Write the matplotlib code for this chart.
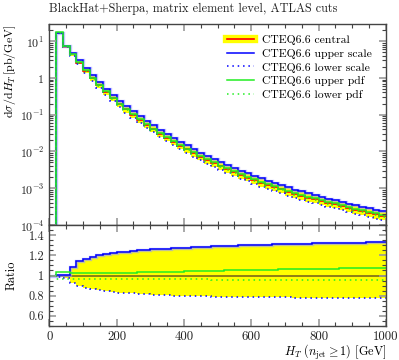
import matplotlib
matplotlib.use("Agg")
import matplotlib.pyplot as plt
import numpy as np
from matplotlib.lines import Line2D
from matplotlib.legend_handler import HandlerTuple
from matplotlib.ticker import MultipleLocator, LogLocator, FuncFormatter, NullFormatter

plt.rcParams['font.family'] = ['cmr10', 'DejaVu Serif']
plt.rcParams['mathtext.fontset'] = 'cm'
plt.rcParams['axes.formatter.use_mathtext'] = True
plt.rcParams['axes.unicode_minus'] = False

# H_T bin edges [GeV], 20 GeV bins
bin_edges = np.arange(0, 1001, 20)

# central prediction dsigma/dH_T [pb/GeV] (first bin 0-20 is empty)
central = [0.0,
           16.8, 7.08, 4.32, 2.60, 1.57, 0.977, 0.624, 0.417, 0.282, 0.195,
           0.138, 0.0989, 0.0724, 0.0537, 0.0403, 0.0305, 0.0234, 0.0182, 0.0143, 0.01135,
           0.00902, 0.00724, 0.00589, 0.00479, 0.00394, 0.00327, 0.00272, 0.00229, 0.00195, 0.00166,
           0.00141, 0.00122, 0.00106, 0.000923, 0.000804, 0.000700, 0.000624, 0.000556, 0.000495, 0.000442,
           0.000394, 0.000362, 0.000326, 0.000288, 0.000257, 0.000234, 0.000216, 0.000193, 0.000178]

# ratios to central
upper_scale = [1.0,
               1.005, 1.005, 1.085, 1.14, 1.165, 1.185, 1.20, 1.21, 1.22, 1.23,
               1.237, 1.243, 1.248, 1.253, 1.258, 1.262, 1.266, 1.270, 1.274, 1.277,
               1.280, 1.283, 1.286, 1.289, 1.291, 1.294, 1.296, 1.298, 1.300, 1.302,
               1.304, 1.306, 1.308, 1.310, 1.311, 1.313, 1.315, 1.316, 1.318, 1.319,
               1.320, 1.322, 1.323, 1.324, 1.325, 1.326, 1.327, 1.328, 1.329]
lower_scale = [1.0,
               0.985, 0.975, 0.925, 0.895, 0.875, 0.862, 0.852, 0.844, 0.837, 0.831,
               0.826, 0.822, 0.818, 0.814, 0.811, 0.808, 0.805, 0.802, 0.800, 0.798,
               0.796, 0.795, 0.793, 0.792, 0.791, 0.790, 0.789, 0.788, 0.787, 0.786,
               0.785, 0.785, 0.784, 0.783, 0.783, 0.782, 0.782, 0.781, 0.781, 0.780,
               0.780, 0.779, 0.779, 0.779, 0.778, 0.778, 0.778, 0.777, 0.777]
upper_pdf = [1.0,
             1.03, 1.03, 1.020, 1.021, 1.022, 1.023, 1.024, 1.025, 1.026, 1.027,
             1.028, 1.029, 1.030, 1.031, 1.032, 1.034, 1.035, 1.037, 1.039, 1.041,
             1.043, 1.045, 1.047, 1.048, 1.049, 1.050, 1.052, 1.053, 1.054, 1.055,
             1.056, 1.058, 1.059, 1.060, 1.061, 1.062, 1.064, 1.063, 1.066, 1.065,
             1.068, 1.069, 1.070, 1.072, 1.073, 1.074, 1.076, 1.077, 1.079]
lower_pdf = [1.0,
             0.97, 0.968, 0.966, 0.966, 0.965, 0.965, 0.965, 0.964, 0.964, 0.964,
             0.964, 0.963, 0.963, 0.963, 0.963, 0.962, 0.962, 0.962, 0.962, 0.961,
             0.961, 0.961, 0.961, 0.960, 0.960, 0.960, 0.960, 0.959, 0.959, 0.959,
             0.959, 0.958, 0.958, 0.958, 0.958, 0.957, 0.957, 0.957, 0.957, 0.956,
             0.956, 0.956, 0.956, 0.955, 0.955, 0.955, 0.955, 0.954, 0.954]

labels = ['CTEQ6.6 central', 'CTEQ6.6 upper scale', 'CTEQ6.6 lower scale',
          'CTEQ6.6 upper pdf', 'CTEQ6.6 lower pdf']

YELLOW = '#ffff00'
RED = '#ff0000'
BLUE = '#0000ff'
GREEN = '#22ee22'
AXCOL = '#444444'
DOT = (0, (1, 2.5))

central = np.clip(np.array(central), 1e-12, None)
r_us = np.array(upper_scale)
r_ls = np.array(lower_scale)
r_up = np.array(upper_pdf)
r_lp = np.array(lower_pdf)

fig = plt.figure(figsize=(3.99, 3.60), dpi=100)
ax = fig.add_axes([0.1236, 0.375, 0.8438, 0.5583])
axr = fig.add_axes([0.1236, 0.0944, 0.8438, 0.2806], sharex=ax)


def draw(a, c, central_col):
    up = c * r_us
    lo = c * r_ls
    a.stairs(up, bin_edges, baseline=lo, fill=True, color=YELLOW, lw=0)
    a.stairs(c, bin_edges, baseline=None, color=central_col, lw=1.2)
    a.stairs(up, bin_edges, baseline=None, color='#9999ff', lw=2.4, alpha=0.6)
    a.stairs(up, bin_edges, baseline=None, color=BLUE, lw=1.1)
    a.stairs(lo, bin_edges, baseline=None, color=BLUE, lw=1.1, ls=DOT)
    a.stairs(c * r_up, bin_edges, baseline=None, color=GREEN, lw=1.1)
    a.stairs(c * r_lp, bin_edges, baseline=None, color=GREEN, lw=1.1, ls=DOT)


draw(ax, central, RED)
draw(axr, np.ones_like(central), '#7a6a1a')

ax.set_yscale('log')
ax.set_ylim(1e-4, 29)
ax.set_xlim(0, 1000)
axr.set_ylim(0.5, 1.5)


def log_fmt(v, pos):
    e = int(round(np.log10(v)))
    if e == 0:
        return '$1$'
    return r'$10^{%d}$' % e


ax.yaxis.set_major_locator(LogLocator(base=10, numticks=10))
ax.yaxis.set_minor_locator(LogLocator(base=10, subs=np.arange(2, 10), numticks=20))
ax.yaxis.set_major_formatter(FuncFormatter(log_fmt))
ax.yaxis.set_minor_formatter(NullFormatter())

axr.xaxis.set_major_locator(MultipleLocator(200))
axr.xaxis.set_minor_locator(MultipleLocator(50))
axr.yaxis.set_major_locator(MultipleLocator(0.2))
axr.yaxis.set_minor_locator(MultipleLocator(0.05))
axr.yaxis.set_major_formatter(FuncFormatter(lambda v, p: ('%g' % round(v, 2)) if 0.55 < v < 1.45 else ''))
axr.xaxis.set_major_formatter(FuncFormatter(lambda v, p: '%d' % v))
plt.setp(ax.get_xticklabels(), visible=False)

for a in (ax, axr):
    for s in a.spines.values():
        s.set_color(AXCOL)
        s.set_linewidth(1.0)
    a.tick_params(which='both', direction='in', top=True, right=True, labelsize=9.2, colors=AXCOL,
                  labelcolor='#222222')
    a.tick_params(which='major', length=5, width=1.2, color='#999999')
    a.tick_params(which='minor', length=3, width=0.8)
ax.tick_params(axis='y', labelsize=8.6)
axr.tick_params(axis='y', labelsize=8.8)

ax.set_ylabel(r'$\mathrm{d}\sigma/\mathrm{d}H_T\,[\mathrm{pb/GeV}]$', fontsize=8.6, loc='top')
ax.yaxis.set_label_coords(-0.093, 0.995)
axr.set_ylabel('Ratio', fontsize=8.8)
axr.yaxis.set_label_coords(-0.093, 0.5)
axr.set_xlabel(r'$H_T\ (n_{\rm jet} \geq 1)$ [GeV]', fontsize=8.8, loc='right', labelpad=-1)

ax.text(0.0, 1.045, 'BlackHat+Sherpa, matrix element level, ATLAS cuts', transform=ax.transAxes,
        fontsize=8.8, ha='left', va='bottom', color='#222222')

handles = [
    (Line2D([], [], color=YELLOW, lw=6), Line2D([], [], color=RED, lw=1.2)),
    Line2D([], [], color=BLUE, lw=1.1),
    Line2D([], [], color=BLUE, lw=1.1, ls=DOT),
    Line2D([], [], color=GREEN, lw=1.1),
    Line2D([], [], color=GREEN, lw=1.1, ls=DOT),
]
ax.legend(handles, labels, handler_map={tuple: HandlerTuple(ndivide=1, pad=0)},
          loc='upper left', bbox_to_anchor=(0.528, 0.945), frameon=False, fontsize=8.4,
          handlelength=2.3, handletextpad=0.7, labelspacing=0.3, borderpad=0, borderaxespad=0)

fig.savefig('out.png', dpi=100)
